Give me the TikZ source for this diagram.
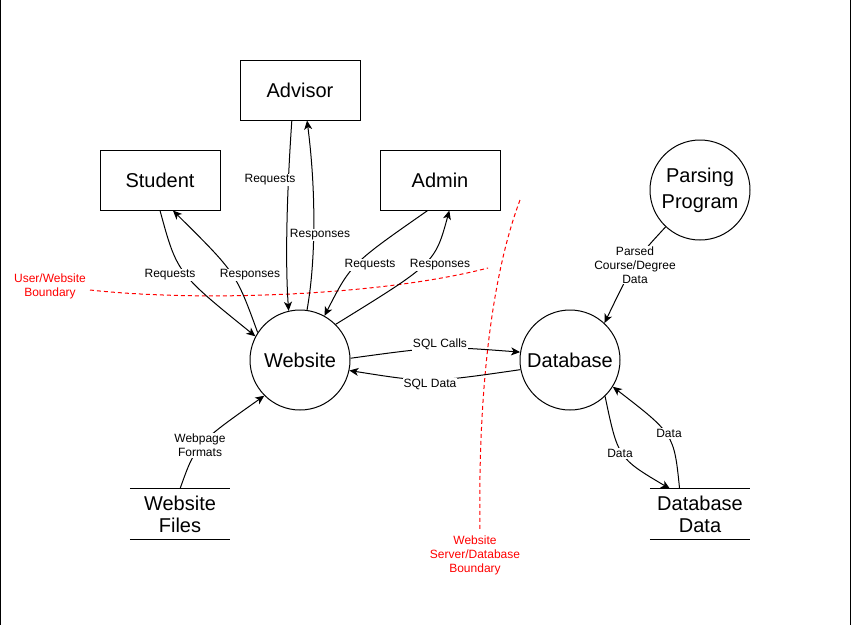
\documentclass[tikz,border=0pt]{standalone}
\usepackage{fontspec}
\setmainfont{Liberation Sans}
\usetikzlibrary{arrows.meta}
\begin{document}
\begin{tikzpicture}[x=1pt,y=-1pt,
  box/.style={draw, line width=1pt, minimum width=120pt, minimum height=60pt, inner sep=0pt, font=\fontsize{20}{24}\selectfont},
  proc/.style={draw, circle, line width=1pt, minimum size=100pt, inner sep=0pt, align=center, font=\fontsize{20}{26}\selectfont},
  store/.style={minimum width=100pt, minimum height=50pt, inner sep=0pt, align=center, font=\fontsize{20}{22}\selectfont},
  flow/.style={line width=1pt, -{Stealth[length=9pt,width=8pt,inset=2.5pt]}},
  lbl/.style={fill=white, inner sep=1pt, align=center, font=\fontsize{12}{14}\selectfont},
  bound/.style={red, line width=1pt, dash pattern=on 4pt off 3pt},
  blbl/.style={text=red, inner sep=0pt, align=center, font=\fontsize{12}{14}\selectfont}
]
\useasboundingbox (0,0) rectangle (851,625);
% frame sides
\draw[line width=1.2pt] (0.6,0) -- (0.6,625);
\draw[line width=1.2pt] (850.4,0) -- (850.4,625);

% nodes
\node[box] (adv) at (300,90) {Advisor};
\node[box] (stud) at (160,180) {Student};
\node[box] (adm) at (440,180) {Admin};
\node[proc] (pp) at (700,190) {Parsing\\Program};
\node[proc] (web) at (300,360) {Website};
\node[proc] (db) at (570,360) {Database};
\node[store] (wf) at (180,514) {Website\\Files};
\node[store] (dd) at (700,514) {Database\\Data};
\foreach \s in {wf,dd}{
  \draw[line width=1pt] (\s.north west) -- (\s.north east);
  \draw[line width=1pt] (\s.south west) -- (\s.south east);
}

% boundaries
\draw[bound] (90,290) .. controls (200,302) and (380,296) .. (488,268);
\draw[bound] (520,200) .. controls (490,280) and (478,400) .. (480,530);
\node[blbl] (b1) at (50,286.5) {User/Website\\Boundary};
\node[blbl] (b2) at (475,555) {Website\\Server/Database\\Boundary};

% flows
\draw[flow] (stud.south) .. controls (177,273) .. (web.152);
\draw[flow] (web.147) .. controls (236,273) .. (stud.-67);
\draw[flow] (adv.-105) .. controls (287,190) and (285,260) .. (web.103);
\draw[flow] (web.82) .. controls (316,260) and (316,190) .. (adv.-77);
\draw[flow] (adm.-112) .. controls (351,264) .. (web.61);
\draw[flow] (web.45) .. controls (435,263) .. (adm.-73);
\draw[flow] (web.2) .. controls (440,346) .. (db.171);
\draw[flow] (db.191) .. controls (428,383) .. (web.-12);
\draw[flow] (pp.-133) .. controls (635,260) .. (db.47);
\draw[flow] (db.-46) .. controls (618,458) .. (dd.140);
\draw[flow] (dd.129) .. controls (674,434) .. (db.-32);
\draw[flow] (wf.north) .. controls (196,444) .. (web.-135);

% labels
\node[lbl] (l1) at (170,275) {Requests};
\node[lbl] (l2) at (250,275) {Responses};
\node[lbl] (l3) at (270,180) {Requests};
\node[lbl] (l4) at (320,235) {Responses};
\node[lbl] (l5) at (370,265) {Requests};
\node[lbl] (l6) at (440,265) {Responses};
\node[lbl] (l7) at (440,344.5) {SQL Calls};
\node[lbl] (l8) at (430,384.5) {SQL Data};
\node[lbl] (l9) at (635,265) {Parsed\\Course/Degree\\Data};
\node[lbl] (l10) at (620,453.5) {Data};
\node[lbl] (l11) at (669,433.5) {Data};
\node[lbl] (l12) at (200,445.5) {Webpage\\Formats};
\end{tikzpicture}
\end{document}
